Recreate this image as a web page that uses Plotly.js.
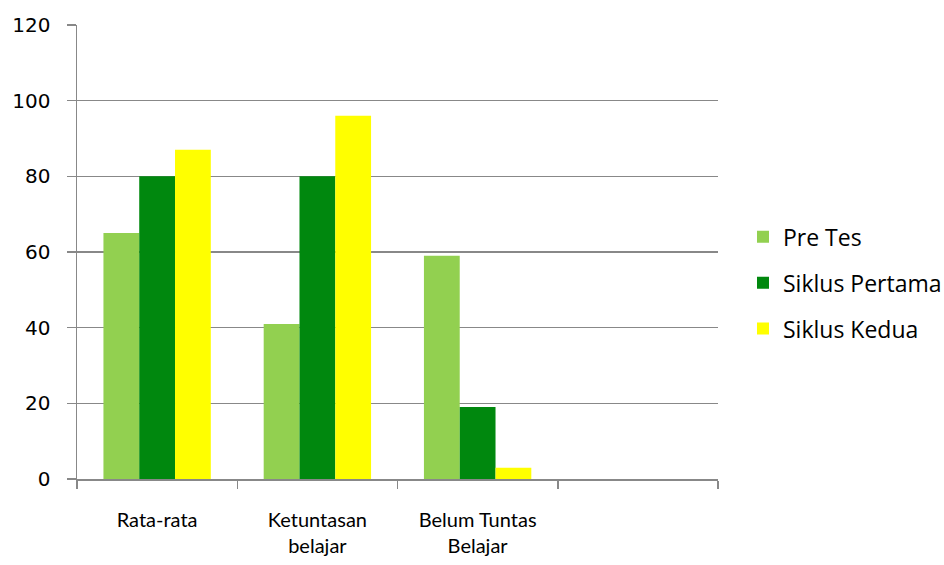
<!DOCTYPE html>
<html>
<head>
<meta charset="utf-8">
<script src="https://cdn.plot.ly/plotly-3.0.1.min.js"></script>
<style>html,body{margin:0;padding:0;background:#fff;}#chart{width:944px;height:565px;}</style>
</head>
<body>
<div id="chart"></div>
<script>
var categories = ["Rata-rata", "Ketuntasan<br>belajar", "Belum Tuntas<br>Belajar", " "];
var preTes = [65, 41, 59, null];
var siklusPertama = [80, 80, 19, null];
var siklusKedua = [87, 96, 3, null];
var seriesNames = ["Pre Tes", "Siklus Pertama", "Siklus Kedua"];
var seriesColors = ["#92D050", "#00880E", "#FFFF00"];
var yTicks = [0, 20, 40, 60, 80, 100, 120];

var seriesValues = [preTes, siklusPertama, siklusKedua];
var traces = seriesValues.map(function (vals, i) {
  return {
    type: "bar",
    name: seriesNames[i],
    x: categories,
    y: vals,
    legendgroup: "g" + i,
    marker: { color: seriesColors[i], line: { width: 0 } },
    hoverinfo: "y"
  };
});

var layout = {
  width: 944, height: 565,
  margin: { l: 77, r: 226, t: 25, b: 86, autoexpand: false },
  paper_bgcolor: "#ffffff", plot_bgcolor: "#ffffff",
  barmode: "group",
  bargap: 0.33, bargroupgap: 0,
  showlegend: true,
  font: { family: "\"Open Sans\", sans-serif", size: 18, color: "#000000" },
  xaxis: {
    type: "category",
    categoryorder: "array",
    categoryarray: categories,
    range: [-0.5, 3.5],
    tickson: "boundaries",
    ticks: "outside", ticklen: 8, tickcolor: "#888888", tickwidth: 1.5,
    showline: true, linecolor: "#888888", linewidth: 1.5,
    showgrid: false, zeroline: false,
    tickfont: { family: "Lato, \"Open Sans\", sans-serif", size: 20, color: "#000000" },
    ticklabelstandoff: 22
  },
  yaxis: {
    range: [0, 120],
    tickvals: yTicks,
    ticks: "outside", ticklen: 9, tickcolor: "#888888", tickwidth: 1.5,
    showline: true, linecolor: "#888888", linewidth: 1.5,
    showgrid: true, gridcolor: "#888888", gridwidth: 1.5,
    zeroline: false,
    tickfont: { family: "\"DejaVu Sans\", sans-serif", size: 20, color: "#000000" },
    ticklabelstandoff: 12
  },
  legend: {
    x: 1.039, y: 0.432, xanchor: "left", yanchor: "middle",
    traceorder: "grouped",
    tracegroupgap: 13,
    font: { family: "\"Open Sans\", sans-serif", size: 23, color: "#000000" },
    itemwidth: 30,
    bgcolor: "rgba(0,0,0,0)"
  }
};

Plotly.newPlot("chart", traces, layout, { displayModeBar: false, staticPlot: true });
</script>
</body>
</html>
